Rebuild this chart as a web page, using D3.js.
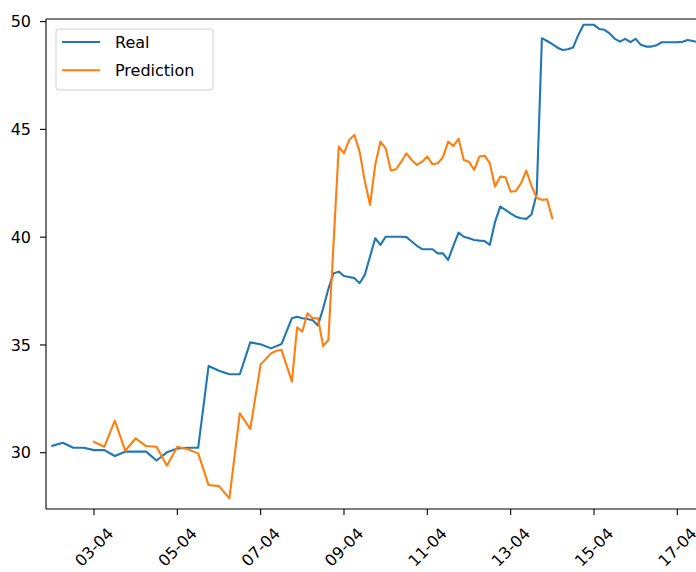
<!DOCTYPE html>
<html>
<head>
<meta charset="utf-8">
<script src="https://cdn.jsdelivr.net/npm/d3@7"></script>
<style>
  body { margin: 0; background: #fff; }
  text { font-family: "DejaVu Sans", sans-serif; fill: #000; }
</style>
</head>
<body>
<div id="chart"></div>
<script>
// time is given as hours after 03-04 00:00
const baseDate = new Date(2023, 3, 3);

const realHours = [-24, -18, -12, -6, 0, 6, 12, 18, 24, 30, 36, 42, 48, 54, 60, 66, 72, 78, 84, 90,
  96, 102, 108, 114, 117, 120, 123, 126, 129, 132, 135, 138, 141, 144, 147, 150, 153, 156, 159, 162,
  165, 168, 171, 174, 177, 180, 183, 186, 189, 192, 195, 198, 201, 204, 207, 210, 213, 216, 219, 222,
  225, 228, 231, 234, 237, 240, 243, 246, 249, 252, 255, 258, 261, 264, 267, 270, 273, 276, 279, 282,
  285, 288, 291, 294, 297, 300, 303, 306, 309, 312, 315, 318, 321, 324, 327, 330, 333, 336, 339, 342,
  345, 348, 351];
const realValues = [30.32, 30.46, 30.23, 30.23, 30.12, 30.12, 29.85, 30.05, 30.05, 30.05, 29.64, 30.02,
  30.2, 30.23, 30.23, 34.02, 33.8, 33.64, 33.64, 35.12,
  35.03, 34.84, 35.04, 36.24, 36.31, 36.24, 36.2, 36.15, 35.9, 36.7, 37.6, 38.32, 38.4, 38.2, 38.15, 38.1,
  37.86, 38.25, 39.1, 39.95,
  39.64, 40.02, 40.02, 40.02, 40.02, 40.0, 39.8, 39.6, 39.44, 39.44, 39.44, 39.25, 39.25, 38.94, 39.6,
  40.21, 40.02, 39.95, 39.87, 39.84,
  39.82, 39.64, 40.7, 41.42, 41.26, 41.1, 40.95, 40.88, 40.85, 41.05, 42.0, 49.23, 49.1, 48.95, 48.79,
  48.68, 48.72, 48.8, 49.38, 49.85,
  49.85, 49.85, 49.66, 49.62, 49.45, 49.2, 49.07, 49.2, 49.05, 49.2, 48.92, 48.84, 48.84, 48.9, 49.04,
  49.04, 49.04, 49.04, 49.06, 49.15,
  49.1, 49.04, 49.0];

const predHours = [0, 6, 12, 18, 24, 30, 36, 42, 48, 54, 60, 66, 72, 78, 84, 90, 96, 102, 105, 108,
  114, 117, 120, 123, 126, 129, 132, 135, 141, 144, 147, 150, 153, 156, 159, 162, 165, 168, 171, 174,
  177, 180, 183, 186, 189, 192, 195, 198, 201, 204, 207, 210, 213, 216, 219, 222, 225, 228, 231, 234,
  237, 240, 243, 246, 249, 252, 255, 258, 261, 264];
const predValues = [30.5, 30.28, 31.49, 30.09, 30.67, 30.31, 30.28, 29.4, 30.28, 30.16, 29.97, 28.5,
  28.45, 27.88, 31.83, 31.1, 34.1, 34.61, 34.73, 34.77,
  33.3, 35.82, 35.62, 36.47, 36.24, 36.24, 34.95, 35.23, 44.2, 43.89, 44.51, 44.74, 43.97, 42.6, 41.49,
  43.35, 44.43, 44.12, 43.09, 43.15,
  43.5, 43.89, 43.58, 43.35, 43.5, 43.74, 43.38, 43.43, 43.71, 44.43, 44.23, 44.56, 43.58, 43.5, 43.12,
  43.74, 43.78, 43.43, 42.34, 42.81,
  42.78, 42.11, 42.14, 42.5, 43.09, 42.39, 41.83, 41.73, 41.76, 40.88];

const yTicks = [30, 35, 40, 45, 50];
const xTickDays = [3, 5, 7, 9, 11, 13, 15, 17];
const seriesNames = ['Real', 'Prediction'];
const seriesColors = ['#1f77b4', '#ff7f0e'];

const toDate = h => d3.timeHour.offset(baseDate, h);
const realData = realHours.map((h, i) => ({ t: toDate(h), v: realValues[i] }));
const predData = predHours.map((h, i) => ({ t: toDate(h), v: predValues[i] }));

const W = 696, H = 572;
const margin = { top: 19, left: 46, bottom: 63 };
const plotH = H - margin.top - margin.bottom;
const plotW = 720;

const svg = d3.select('#chart').append('svg')
  .attr('width', W)
  .attr('height', H);

svg.append('rect').attr('width', W).attr('height', H).attr('fill', '#fff');

const g = svg.append('g')
  .attr('transform', `translate(${margin.left},${margin.top})`);

// 03-04 sits at 48px from the left spine, 17-04 at 631px
const x = d3.scaleTime()
  .domain([new Date(2023, 3, 3), new Date(2023, 3, 17)])
  .range([48, 631.3]);

const y = d3.scaleLinear()
  .domain([27.39, 50.12])
  .range([plotH, 0]);

g.append('clipPath').attr('id', 'clip')
  .append('rect').attr('width', plotW).attr('height', plotH);

const line = d3.line()
  .x(d => x(d.t))
  .y(d => y(d.v));

const lines = g.append('g').attr('clip-path', 'url(#clip)');
[realData, predData].forEach((data, i) => {
  lines.append('path')
    .datum(data)
    .attr('fill', 'none')
    .attr('stroke', seriesColors[i])
    .attr('stroke-width', 2.1)
    .attr('stroke-linejoin', 'round')
    .attr('stroke-linecap', 'square')
    .attr('d', line);
});

// spines (right one is outside the picture)
g.append('line').attr('x1', 0).attr('x2', 0).attr('y1', 0).attr('y2', plotH)
  .attr('stroke', '#000').attr('stroke-width', 1.1);
g.append('line').attr('x1', 0).attr('x2', plotW).attr('y1', plotH).attr('y2', plotH)
  .attr('stroke', '#000').attr('stroke-width', 1.1);
g.append('line').attr('x1', 0).attr('x2', plotW).attr('y1', 0).attr('y2', 0)
  .attr('stroke', '#000').attr('stroke-width', 1.1);

// y axis
const yAxis = g.append('g');
yAxis.selectAll('line')
  .data(yTicks)
  .enter()
  .append('line')
  .attr('x1', -6).attr('x2', 0)
  .attr('y1', d => y(d)).attr('y2', d => y(d))
  .attr('stroke', '#000').attr('stroke-width', 1.1);
yAxis.selectAll('text')
  .data(yTicks)
  .enter()
  .append('text')
  .attr('x', -15)
  .attr('y', d => y(d))
  .attr('dy', '0.36em')
  .attr('text-anchor', 'end')
  .style('font-size', '16px')
  .text(d => d);

// x axis
const fmt = d3.timeFormat('%d-%m');
const xTicks = xTickDays.map(d => new Date(2023, 3, d));
const xAxis = g.append('g').attr('transform', `translate(0,${plotH})`);
xAxis.selectAll('line')
  .data(xTicks)
  .enter()
  .append('line')
  .attr('x1', d => x(d)).attr('x2', d => x(d))
  .attr('y1', 0).attr('y2', 6)
  .attr('stroke', '#000').attr('stroke-width', 1.1);
xAxis.selectAll('text')
  .data(xTicks)
  .enter()
  .append('text')
  .attr('transform', d => `translate(${x(d)},38) rotate(-45)`)
  .attr('dy', '0.36em')
  .attr('text-anchor', 'middle')
  .style('font-size', '16px')
  .text(d => fmt(d));

// legend
const legend = g.append('g').attr('transform', 'translate(10,10)');
legend.append('rect')
  .attr('width', 157)
  .attr('height', 61)
  .attr('rx', 3)
  .attr('fill', '#fff')
  .attr('fill-opacity', 0.8)
  .attr('stroke', '#d0d0d0')
  .attr('stroke-width', 1);

const items = legend.selectAll('.legend-item')
  .data(seriesNames)
  .enter()
  .append('g')
  .attr('class', 'legend-item')
  .attr('transform', (d, i) => `translate(0,${13 + i * 28.3})`);

items.append('line')
  .attr('x1', 6).attr('x2', 44)
  .attr('stroke', (d, i) => seriesColors[i])
  .attr('stroke-width', 2.1);

items.append('text')
  .attr('x', 59)
  .attr('dy', '0.36em')
  .style('font-size', '16px')
  .text(d => d);
</script>
</body>
</html>
